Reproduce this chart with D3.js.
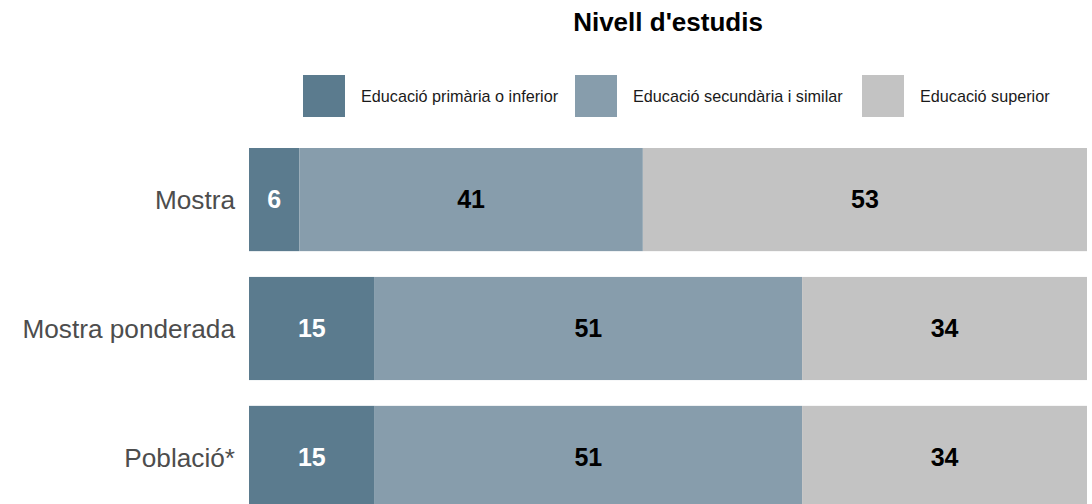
<!DOCTYPE html>
<html>
<head>
<meta charset="utf-8">
<script src="https://d3js.org/d3.v7.min.js"></script>
<style>
  body { margin: 0; background: #fff; }
  svg { display: block; font-family: "Liberation Sans", Arial, sans-serif; }
</style>
</head>
<body>
<div id="chart"></div>
<script>
var categories = ["Mostra", "Mostra ponderada", "Població*"];
var levels = ["Educació primària o inferior", "Educació secundària i similar", "Educació superior"];
var primaria = [6, 15, 15];
var secundaria = [41, 51, 51];
var superior = [53, 34, 34];

var colors = ["#5b7b8e", "#879dac", "#c3c3c3"];
var textColors = ["#ffffff", "#000000", "#000000"];

var width = 1092, height = 504;

var svg = d3.select("#chart").append("svg")
    .attr("width", width)
    .attr("height", height);

var x = d3.scaleLinear().domain([0, 100]).range([249, 1087]);
var y = d3.scaleBand().domain(categories).range([148, 509]).paddingInner(0.2).paddingOuter(0);

// build stacked rows
var rows = categories.map(function (c, i) {
    return { cat: c, primaria: primaria[i], secundaria: secundaria[i], superior: superior[i] };
});
var stack = d3.stack().keys(["primaria", "secundaria", "superior"]);
var series = stack(rows);

// title
svg.append("text")
    .attr("x", 668)
    .attr("y", 31)
    .attr("text-anchor", "middle")
    .style("font-size", "26px")
    .style("font-weight", "bold")
    .style("fill", "#000")
    .text("Nivell d'estudis");

// legend
var legendX = [303, 575, 862];
var legend = svg.selectAll("g.legend")
    .data(levels)
    .enter().append("g")
    .attr("class", "legend")
    .attr("transform", function (d, i) { return "translate(" + legendX[i] + ",75)"; });

legend.append("rect")
    .attr("width", 42)
    .attr("height", 42)
    .attr("fill", function (d, i) { return colors[i]; });

legend.append("text")
    .attr("x", 58)
    .attr("y", 21)
    .attr("dy", "0.35em")
    .style("font-size", "16.2px")
    .style("fill", "#1a1a1a")
    .text(function (d) { return d; });

// bars
var groups = svg.selectAll("g.series")
    .data(series)
    .enter().append("g")
    .attr("class", "series");

groups.selectAll("rect")
    .data(function (s) { return s.map(function (d) { return { s: s.index, d: d }; }); })
    .enter().append("rect")
    .attr("x", function (p) { return x(p.d[0]); })
    .attr("y", function (p) { return y(p.d.data.cat); })
    .attr("width", function (p) { return x(p.d[1]) - x(p.d[0]); })
    .attr("height", y.bandwidth())
    .attr("fill", function (p) { return colors[p.s]; });

groups.selectAll("text")
    .data(function (s) { return s.map(function (d) { return { s: s.index, d: d }; }); })
    .enter().append("text")
    .attr("x", function (p) { return (x(p.d[0]) + x(p.d[1])) / 2; })
    .attr("y", function (p) { return y(p.d.data.cat) + y.bandwidth() / 2; })
    .attr("dy", "0.35em")
    .attr("text-anchor", "middle")
    .style("font-size", "25px")
    .style("font-weight", "bold")
    .style("fill", function (p) { return textColors[p.s]; })
    .text(function (p) { return p.d[1] - p.d[0]; });

// category labels
svg.selectAll("text.cat")
    .data(categories)
    .enter().append("text")
    .attr("class", "cat")
    .attr("x", 235)
    .attr("y", function (d) { return y(d) + y.bandwidth() / 2; })
    .attr("dy", "0.35em")
    .attr("text-anchor", "end")
    .style("font-size", "26.2px")
    .style("fill", "#4d4d4d")
    .text(function (d) { return d; });
</script>
</body>
</html>
